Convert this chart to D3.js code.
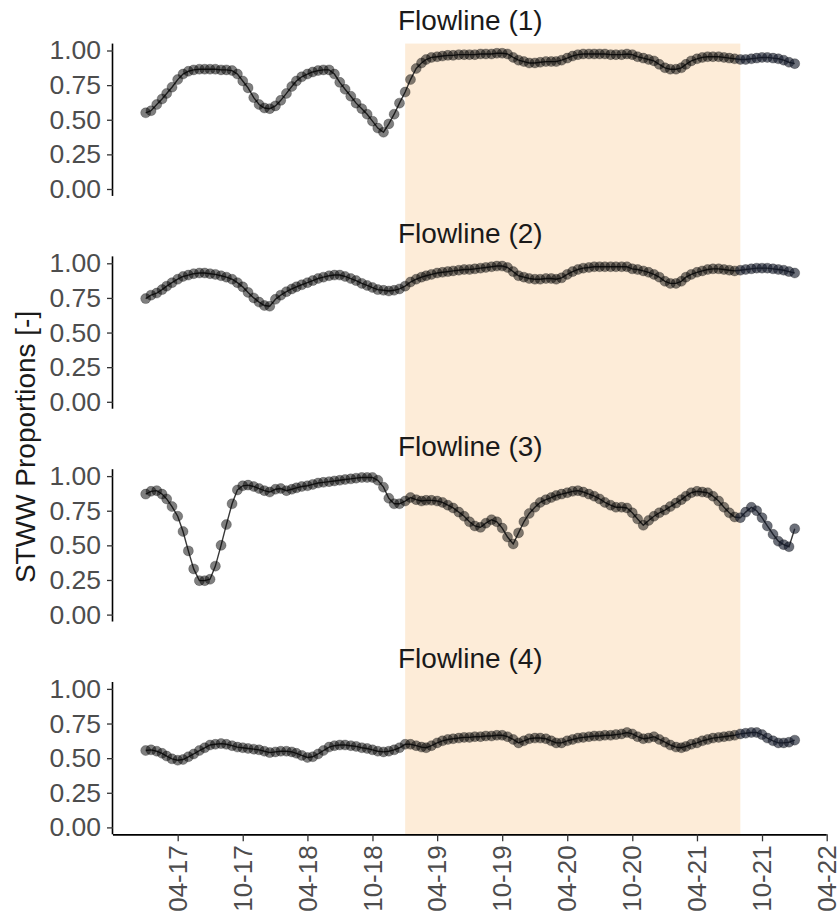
<!DOCTYPE html>
<html><head><meta charset="utf-8">
<script src="https://cdn.jsdelivr.net/npm/d3@7"></script>
<style>body{margin:0;background:#fff}svg{display:block}</style>
</head><body><svg id="c" width="840" height="921"></svg>
<script>
const panelTitles = ["Flowline (1)", "Flowline (2)", "Flowline (3)", "Flowline (4)"];

// semi-monthly observations, 2017-01-01 ... 2022-01-01 (1st and 16th of each month)
const seriesStartYear = 2017;

const flowline1 = [0.55,0.565,0.61,0.65,0.69,0.735,0.79,0.83,0.85,0.86,0.865,0.865,0.865,0.865,0.86,0.86,0.855,0.83,0.78,0.73,
0.66,0.61,0.585,0.58,0.60,0.64,0.69,0.74,0.78,0.81,0.83,0.845,0.855,0.86,0.86,0.83,0.77,0.72,0.67,0.62,
0.58,0.54,0.49,0.44,0.41,0.47,0.54,0.62,0.70,0.79,0.87,0.91,0.935,0.95,0.955,0.96,0.965,0.965,0.97,0.97,
0.97,0.97,0.975,0.975,0.975,0.98,0.98,0.975,0.95,0.93,0.92,0.91,0.91,0.915,0.92,0.92,0.92,0.93,0.945,0.96,
0.97,0.975,0.975,0.975,0.975,0.975,0.97,0.97,0.97,0.975,0.97,0.955,0.945,0.935,0.925,0.90,0.875,0.865,0.865,0.875,
0.90,0.925,0.94,0.95,0.955,0.955,0.955,0.95,0.945,0.94,0.935,0.935,0.94,0.945,0.95,0.95,0.945,0.94,0.93,0.915,0.905];

const flowline2 = [0.745,0.77,0.785,0.81,0.835,0.86,0.885,0.905,0.915,0.925,0.93,0.93,0.925,0.92,0.91,0.90,0.885,0.86,0.83,0.79,
0.75,0.72,0.695,0.69,0.74,0.77,0.795,0.815,0.83,0.845,0.86,0.875,0.89,0.90,0.91,0.915,0.915,0.905,0.89,0.875,
0.855,0.84,0.825,0.81,0.805,0.80,0.805,0.815,0.835,0.865,0.885,0.90,0.91,0.92,0.93,0.935,0.94,0.945,0.95,0.955,
0.955,0.96,0.965,0.97,0.975,0.98,0.98,0.97,0.94,0.91,0.90,0.89,0.885,0.885,0.89,0.89,0.885,0.895,0.92,0.94,
0.955,0.965,0.97,0.975,0.975,0.975,0.975,0.975,0.975,0.975,0.96,0.955,0.945,0.935,0.92,0.90,0.87,0.855,0.855,0.87,
0.90,0.92,0.935,0.945,0.955,0.96,0.96,0.955,0.95,0.945,0.95,0.955,0.96,0.965,0.965,0.965,0.96,0.955,0.95,0.94,0.93];

const flowline3 = [0.87,0.89,0.895,0.87,0.835,0.78,0.71,0.60,0.46,0.33,0.245,0.245,0.255,0.35,0.50,0.65,0.80,0.90,0.93,0.935,
0.925,0.91,0.895,0.885,0.905,0.91,0.895,0.905,0.915,0.925,0.93,0.94,0.95,0.955,0.96,0.965,0.97,0.975,0.98,0.985,
0.99,0.99,0.99,0.97,0.92,0.84,0.80,0.80,0.82,0.845,0.83,0.82,0.825,0.825,0.82,0.81,0.79,0.77,0.74,0.71,
0.67,0.64,0.63,0.66,0.685,0.67,0.625,0.56,0.51,0.59,0.67,0.73,0.775,0.81,0.83,0.845,0.86,0.87,0.88,0.89,
0.895,0.885,0.87,0.855,0.835,0.81,0.79,0.775,0.775,0.77,0.735,0.69,0.645,0.68,0.71,0.735,0.755,0.78,0.805,0.83,
0.855,0.88,0.89,0.885,0.88,0.855,0.82,0.775,0.735,0.705,0.70,0.74,0.775,0.75,0.70,0.64,0.58,0.53,0.505,0.49,0.62];

const flowline4 = [0.555,0.56,0.55,0.535,0.515,0.495,0.485,0.49,0.51,0.53,0.555,0.575,0.595,0.60,0.605,0.60,0.59,0.58,0.575,0.57,
0.565,0.56,0.55,0.54,0.545,0.55,0.55,0.545,0.535,0.52,0.505,0.51,0.53,0.555,0.58,0.59,0.595,0.595,0.59,0.585,
0.575,0.57,0.56,0.55,0.545,0.55,0.56,0.575,0.60,0.60,0.59,0.58,0.575,0.59,0.61,0.625,0.635,0.64,0.645,0.65,
0.65,0.655,0.655,0.66,0.66,0.665,0.665,0.655,0.635,0.61,0.625,0.64,0.645,0.645,0.64,0.625,0.61,0.61,0.625,0.635,
0.645,0.65,0.655,0.66,0.66,0.665,0.665,0.67,0.675,0.685,0.675,0.655,0.64,0.645,0.655,0.635,0.615,0.595,0.58,0.575,
0.585,0.60,0.61,0.625,0.635,0.645,0.65,0.655,0.66,0.665,0.675,0.68,0.685,0.685,0.67,0.645,0.625,0.61,0.61,0.615,0.63];

const seriesList = [flowline1, flowline2, flowline3, flowline4];

const yTicks = [0, 0.25, 0.5, 0.75, 1];
const yTickLabels = ["0.00", "0.25", "0.50", "0.75", "1.00"];
const xTickDates = ["2017-04-01","2017-10-01","2018-04-01","2018-10-01","2019-04-01","2019-10-01",
  "2020-04-01","2020-10-01","2021-04-01","2021-10-01","2022-04-01"];
const xTickLabels = ["04-17","10-17","04-18","10-18","04-19","10-19","04-20","10-20","04-21","10-21","04-22"];
const highlightPeriod = ["2019-01-01", "2021-08-01"];
const xDomain = ["2016-10-01", "2022-04-01"];
const yAxisTitle = "STWW Proportions [-]";

const parse = d3.timeParse("%Y-%m-%d");
const dates = flowline1.map((_, i) => new Date(seriesStartYear, Math.floor(i / 2), i % 2 ? 16 : 1));

const svg = d3.select("#c");
const FONT = "'Liberation Sans', Arial, Helvetica, sans-serif";
const left = 113, right = 826.7;
const x = d3.scaleTime().domain(xDomain.map(parse)).range([left, right]);

const firstTop = 50.5, pitch = 212.8, unitH = 138.5;
const panels = seriesList.map((s, k) => {
  const y1 = firstTop + k * pitch;
  const y = d3.scaleLinear().domain([0, 1]).range([y1 + unitH, y1]);
  return {y, top: y(1.05), bottom: y(-0.05), y1};
});

// highlight rectangle across all panels
svg.append("rect")
  .attr("x", x(parse(highlightPeriod[0])))
  .attr("width", x(parse(highlightPeriod[1])) - x(parse(highlightPeriod[0])))
  .attr("y", panels[0].top)
  .attr("height", panels[3].bottom - panels[0].top)
  .attr("fill", "#fdecd8");

const lateStart = parse(highlightPeriod[1]);

panels.forEach((p, k) => {
  const g = svg.append("g");
  const data = seriesList[k].map((v, i) => ({d: dates[i], v}));
  // title
  g.append("text").attr("x", (left + right) / 2 + 0.5).attr("y", p.y1 - 20.5)
    .attr("text-anchor", "middle").attr("font-family", FONT).attr("font-size", 28)
    .attr("fill", "#1a1a1a").text(panelTitles[k]);
  // y axis
  const ax = d3.axisLeft(p.y).tickValues(yTicks).tickFormat((d, i) => yTickLabels[i]).tickSize(6).tickPadding(6);
  const ag = g.append("g").attr("transform", `translate(${left},0)`).call(ax);
  ag.select(".domain").attr("d", `M-0.5,${p.top}V${p.bottom}`).attr("stroke", "#000").attr("stroke-width", 1.6);
  ag.selectAll(".tick line").attr("stroke", "#333").attr("stroke-width", 1.3);
  ag.selectAll(".tick text").attr("font-family", FONT).attr("font-size", 26.5).attr("fill", "#4d4d4d");
  // line
  g.append("path").datum(data)
    .attr("d", d3.line().x(d => x(d.d)).y(d => p.y(d.v)))
    .attr("fill", "none").attr("stroke", "#222").attr("stroke-width", 1.4).attr("stroke-opacity", 0.9);
  // points
  g.selectAll("circle").data(data).join("circle")
    .attr("cx", d => x(d.d)).attr("cy", d => p.y(d.v)).attr("r", 5)
    .attr("fill", d => d.d >= lateStart ? "#121829" : "#000")
    .attr("fill-opacity", d => d.d >= lateStart ? 0.62 : 0.5)
    .attr("stroke", "#000").attr("stroke-opacity", 0.3).attr("stroke-width", 0.8);
});

// bottom x axis
const p4 = panels[3];
const xa = d3.axisBottom(x).tickValues(xTickDates.map(parse)).tickFormat((d, i) => xTickLabels[i]).tickSize(7).tickPadding(6);
const xg = svg.append("g").attr("transform", `translate(0,${p4.bottom})`).call(xa);
xg.select(".domain").attr("d", `M${left},0.5H${right}`).attr("stroke", "#000").attr("stroke-width", 1.6);
xg.selectAll(".tick line").attr("stroke", "#333").attr("stroke-width", 1.3);
xg.selectAll(".tick text").attr("font-family", FONT).attr("font-size", 26).attr("fill", "#4d4d4d")
  .attr("transform", "rotate(-90)").attr("text-anchor", "end").attr("dy", "0.35em")
  .attr("x", -11).attr("y", -0.5);

// y-axis title
const midY = (panels[0].top + panels[3].bottom) / 2;
svg.append("text").attr("transform", `translate(35,${midY + 8}) rotate(-90)`)
  .attr("text-anchor", "middle").attr("font-family", FONT).attr("font-size", 28)
  .attr("fill", "#1a1a1a").text(yAxisTitle);
</script></body></html>
